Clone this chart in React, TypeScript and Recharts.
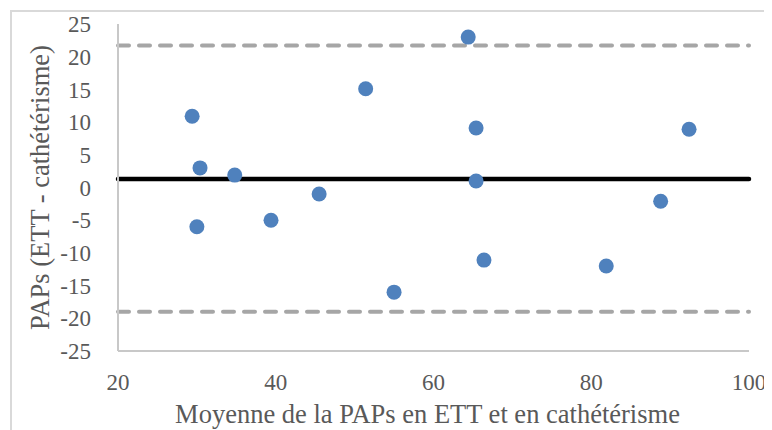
import { ScatterChart, Scatter, XAxis, YAxis, ReferenceLine } from 'recharts';

// moyenne des deux mesures (x) et différence ETT - cathétérisme (y)
const moyennes = [29.4, 30.4, 30.0, 34.8, 39.4, 45.5, 51.4, 55.0, 64.4, 65.4, 65.4, 66.4, 81.9, 88.8, 92.4];
const differences = [10.9, 3.0, -6.0, 1.9, -5.0, -1.0, 15.1, -16.0, 23.0, 9.1, 1.0, -11.1, -12.0, -2.1, 8.9];

const biais = 1.3;
const limiteHaute = 21.7;
const limiteBasse = -19.0;

const xTicks = [20, 40, 60, 80, 100];
const yTicks = [-25, -20, -15, -10, -5, 0, 5, 10, 15, 20, 25];

const xTitle = 'Moyenne de la PAPs en ETT et en cathétérisme';
const yTitle = 'PAPs (ETT - cathétérisme)';

const points = moyennes.map((m, i) => ({ x: m, y: differences[i] }));

const font = "'Liberation Serif', 'Times New Roman', serif";
const grey = '#595959';

const XTick = (props: any) => (
  <text x={props.x} y={props.y} dy="0.71em" textAnchor="middle" fill={grey} fontSize={23} fontFamily={font}>
    {props.payload.value}
  </text>
);

const YTick = (props: any) => (
  <text x={props.x} y={props.y} dy="0.355em" textAnchor="end" fill={grey} fontSize={23} fontFamily={font}>
    {props.payload.value}
  </text>
);

export default function App() {
  return (
    <div style={{ position: 'relative', width: 764, height: 422, fontFamily: font }}>
      <div
        style={{
          position: 'absolute',
          left: 2,
          top: 2,
          right: 0,
          bottom: 0,
          borderLeft: '2px solid #d9d9d9',
          borderTop: '2px solid #d9d9d9',
        }}
      />
      <ScatterChart width={764} height={422} margin={{ top: 16, right: 23, left: 0, bottom: 0 }}>
        <XAxis
          type="number"
          dataKey="x"
          domain={[20, 100]}
          ticks={xTicks}
          height={79}
          axisLine={{ stroke: '#c8c8c8', strokeWidth: 2 }}
          tickLine={false}
          tickMargin={17}
          tick={<XTick />}
          label={{
            value: xTitle,
            position: 'insideBottom',
            offset: 7,
            dx: -6,
            fill: grey,
            fontSize: 26.5,
            style: { fontFamily: font },
          }}
        />
        <YAxis
          type="number"
          dataKey="y"
          domain={[-25, 25]}
          ticks={yTicks}
          width={110}
          axisLine={{ stroke: '#c8c8c8', strokeWidth: 2 }}
          tickLine={false}
          tickMargin={21}
          tick={<YTick />}
          label={{
            value: yTitle,
            angle: -90,
            position: 'insideLeft',
            offset: 32,
            fill: grey,
            fontSize: 26.5,
            style: { textAnchor: 'middle', fontFamily: font },
          }}
        />
        <ReferenceLine y={limiteHaute} stroke="#a6a6a6" strokeWidth={4} strokeDasharray="11 10" strokeLinecap="round" />
        <ReferenceLine y={limiteBasse} stroke="#a6a6a6" strokeWidth={4} strokeDasharray="11 10" strokeLinecap="round" />
        <ReferenceLine y={biais} stroke="#000000" strokeWidth={4.5} strokeLinecap="round" />
        <Scatter
          data={points}
          fill="#4f81bd"
          isAnimationActive={false}
          shape={(props: any) => <circle cx={props.cx} cy={props.cy} r={7.5} fill="#4f81bd" />}
        />
      </ScatterChart>
    </div>
  );
}
